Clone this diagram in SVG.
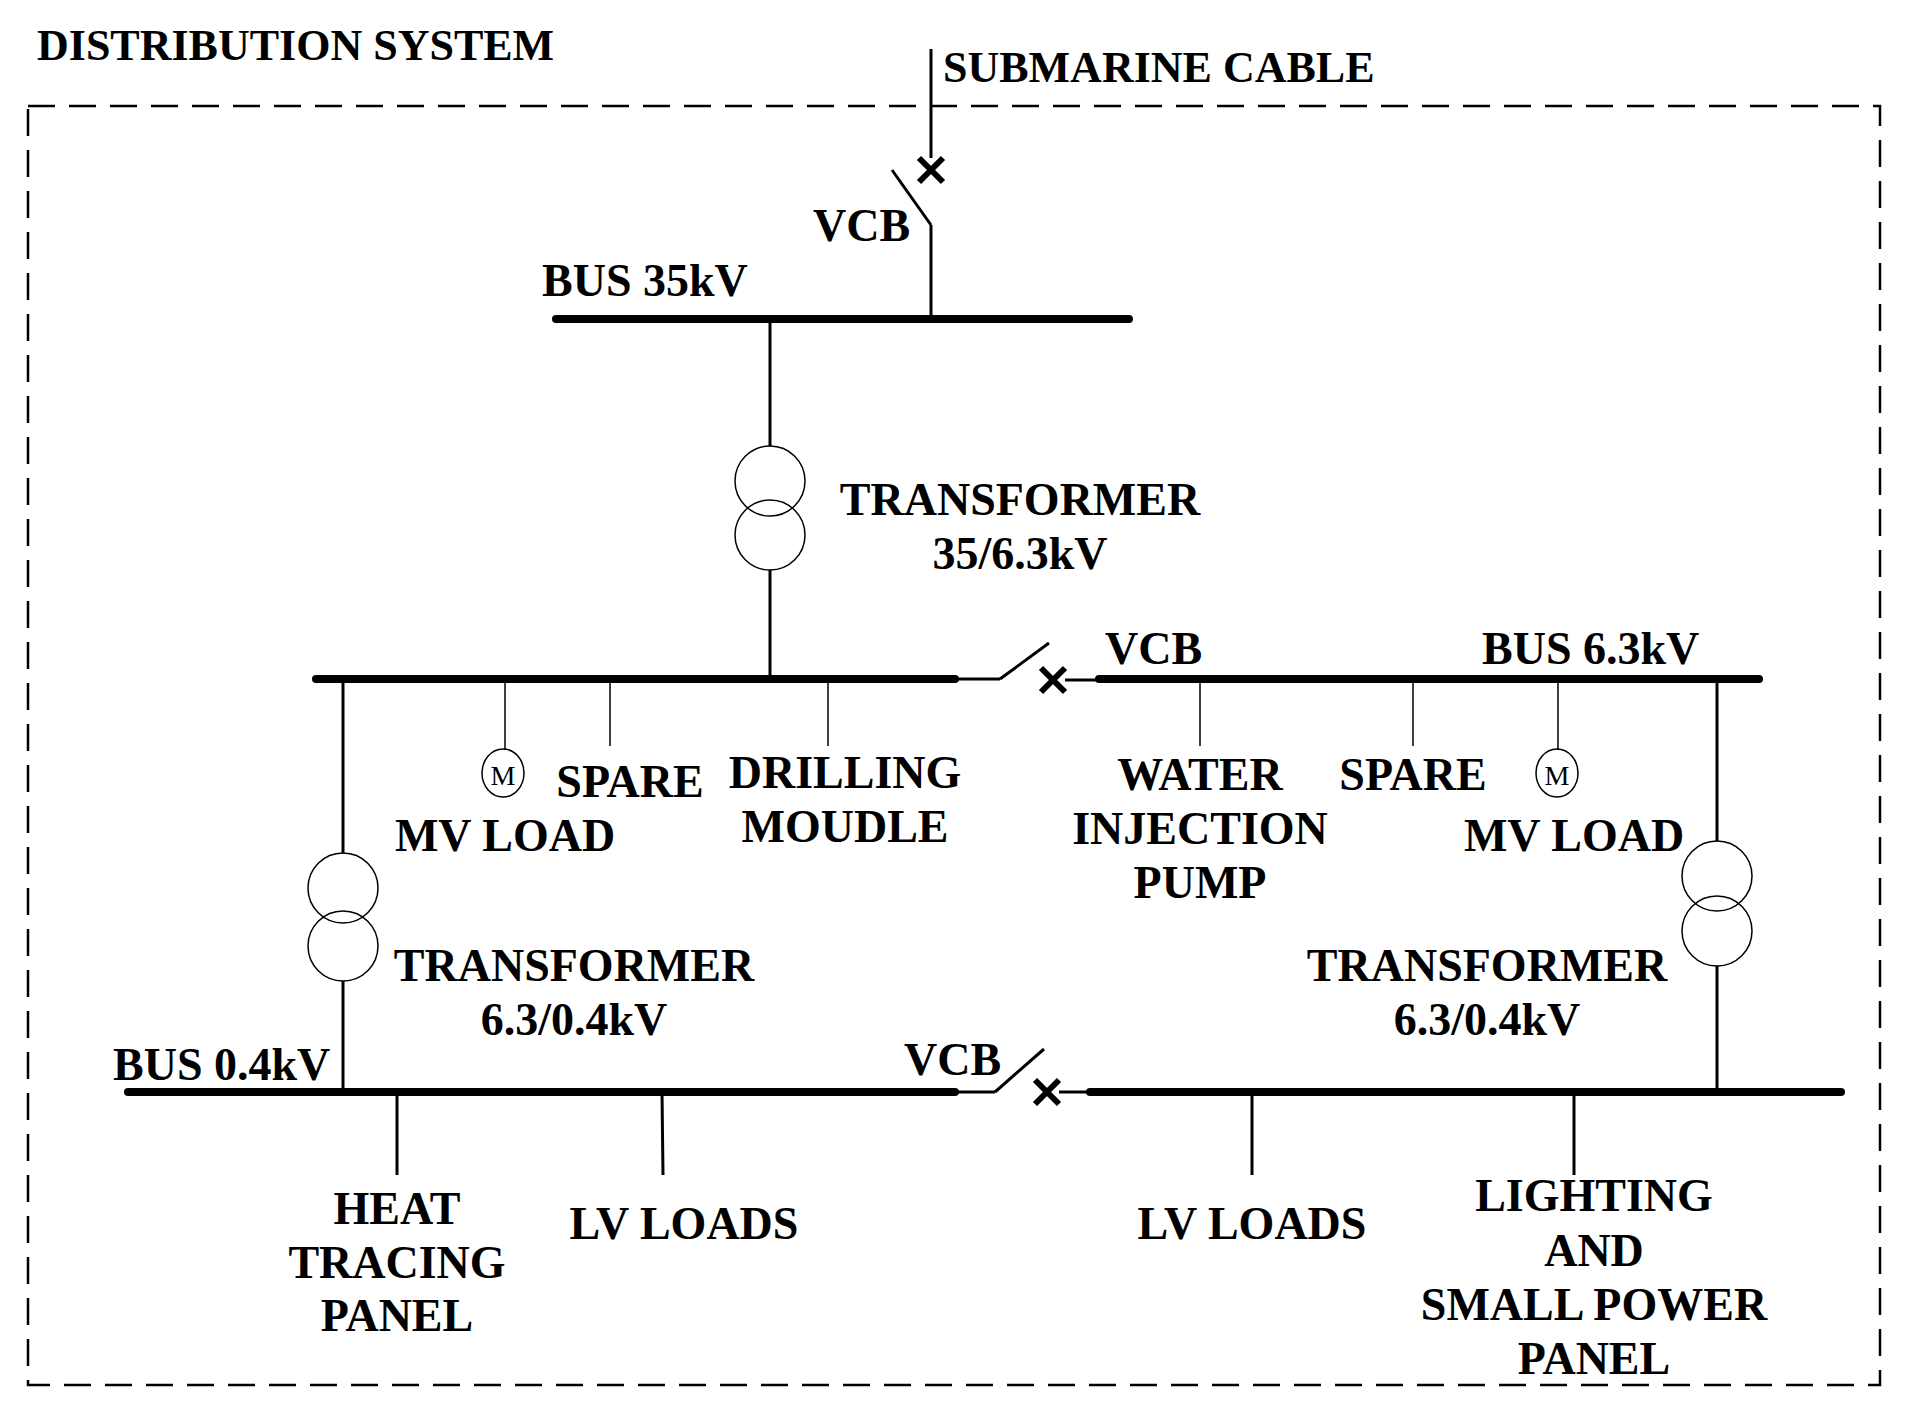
<svg xmlns="http://www.w3.org/2000/svg" width="1908" height="1412" viewBox="0 0 1908 1412">
<style>
text{font-family:"Liberation Serif",serif;font-weight:bold;font-size:46px;fill:#000}
.t{font-size:44px}
.c{text-anchor:middle}
.bus{stroke:#000;stroke-width:8;stroke-linecap:round}
.w{stroke:#000;stroke-width:3;fill:none}
.n{stroke:#000;stroke-width:1.5;fill:none}
.x{stroke:#000;stroke-width:6}
</style>
<rect width="1908" height="1412" fill="#fff"/>
<rect x="28" y="106" width="1852" height="1279" fill="none" stroke="#000" stroke-width="2.5" stroke-dasharray="27,14"/>
<text class="t" x="37" y="60">DISTRIBUTION SYSTEM</text>
<g id="connectors">
<line class="w" x1="931" y1="49" x2="931" y2="158"/>
<line class="w" x1="931" y1="225" x2="931" y2="319"/>
<line class="w" x1="892" y1="170" x2="931" y2="225"/>
<line class="w" x1="770" y1="319" x2="770" y2="446"/>
<line class="w" x1="770" y1="570" x2="770" y2="679"/>
<line class="w" x1="955" y1="679" x2="1000" y2="679"/>
<line class="w" x1="1000" y1="679" x2="1049" y2="643"/>
<line class="n" x1="505" y1="679" x2="505" y2="750"/>
<line class="n" x1="610" y1="679" x2="610" y2="746"/>
<line class="n" x1="828" y1="679" x2="828" y2="746"/>
<line class="n" x1="1200" y1="679" x2="1200" y2="746"/>
<line class="n" x1="1413" y1="679" x2="1413" y2="746"/>
<line class="n" x1="1558" y1="679" x2="1558" y2="750"/>
<line class="w" x1="343" y1="679" x2="343" y2="853"/>
<line class="w" x1="343" y1="981" x2="343" y2="1092"/>
<line class="w" x1="1717" y1="679" x2="1717" y2="841"/>
<line class="w" x1="1717" y1="966" x2="1717" y2="1092"/>
<line class="w" x1="955" y1="1092" x2="995" y2="1092"/>
<line class="w" x1="995" y1="1092" x2="1044" y2="1049"/>
<line class="w" x1="397" y1="1092" x2="397" y2="1175"/>
<line class="w" x1="662" y1="1092" x2="663" y2="1175"/>
<line class="w" x1="1252" y1="1092" x2="1252" y2="1175"/>
<line class="w" x1="1574" y1="1092" x2="1574" y2="1175"/>
</g>
<g id="sub"><text class="t" x="943" y="82">SUBMARINE CABLE</text></g>
<g id="vcb1"><path class="x" d="M919,158 L943,182 M943,158 L919,182"/><text x="813" y="241">VCB</text></g>
<g id="bus35"><line class="bus" x1="556" y1="319" x2="1129" y2="319"/><text x="542" y="296">BUS 35kV</text></g>
<g id="tr1"><circle class="n" cx="770" cy="481" r="35"/><circle class="n" cx="770" cy="535" r="35"/><text x="1020" y="515" class="c">TRANSFORMER</text><text x="1020" y="569" class="c">35/6.3kV</text></g>
<g id="bus63"><line class="bus" x1="316" y1="679" x2="955" y2="679"/><line class="bus" x1="1099" y1="679" x2="1759" y2="679"/><text x="1482" y="664">BUS 6.3kV</text></g>
<g id="vcb2"><path class="x" d="M1041,668 L1065,692 M1065,668 L1041,692"/><line class="w" x1="1065" y1="680" x2="1099" y2="680"/><text x="1105" y="664">VCB</text></g>
<g id="mv1"><ellipse class="n" cx="503" cy="773" rx="21" ry="24"/><text x="503" y="785" class="c" style="font-size:28px;font-weight:normal">M</text><text x="505" y="851" class="c">MV LOAD</text></g>
<g id="spare1"><text x="630" y="797" class="c">SPARE</text></g>
<g id="drill"><text x="845" y="788" class="c">DRILLING</text><text x="845" y="842" class="c">MOUDLE</text></g>
<g id="water"><text x="1200" y="790" class="c">WATER</text><text x="1200" y="844" class="c">INJECTION</text><text x="1200" y="898" class="c">PUMP</text></g>
<g id="spare2"><text x="1413" y="790" class="c">SPARE</text></g>
<g id="mv2"><ellipse class="n" cx="1557" cy="773" rx="21" ry="24"/><text x="1557" y="785" class="c" style="font-size:28px;font-weight:normal">M</text><text x="1574" y="851" class="c">MV LOAD</text></g>
<g id="tr2"><circle class="n" cx="343" cy="888" r="35"/><circle class="n" cx="343" cy="946" r="35"/><text x="574" y="981" class="c">TRANSFORMER</text><text x="574" y="1035" class="c">6.3/0.4kV</text></g>
<g id="tr3"><circle class="n" cx="1717" cy="876" r="35"/><circle class="n" cx="1717" cy="931" r="35"/><text x="1487" y="981" class="c">TRANSFORMER</text><text x="1487" y="1035" class="c">6.3/0.4kV</text></g>
<g id="bus04"><line class="bus" x1="128" y1="1092" x2="955" y2="1092"/><line class="bus" x1="1090" y1="1092" x2="1841" y2="1092"/><text x="113" y="1080">BUS 0.4kV</text></g>
<g id="vcb3"><path class="x" d="M1035,1080 L1059,1104 M1059,1080 L1035,1104"/><line class="w" x1="1059" y1="1092" x2="1090" y2="1092"/><text x="904" y="1075">VCB</text></g>
<g id="heat"><text x="397" y="1224" class="c">HEAT</text><text x="397" y="1278" class="c">TRACING</text><text x="397" y="1331" class="c">PANEL</text></g>
<g id="lv1"><text x="684" y="1239" class="c">LV LOADS</text></g>
<g id="lv2"><text x="1252" y="1239" class="c">LV LOADS</text></g>
<g id="light"><text x="1594" y="1211" class="c">LIGHTING</text><text x="1594" y="1266" class="c">AND</text><text x="1594" y="1320" class="c">SMALL POWER</text><text x="1594" y="1374" class="c">PANEL</text></g>
</svg>
